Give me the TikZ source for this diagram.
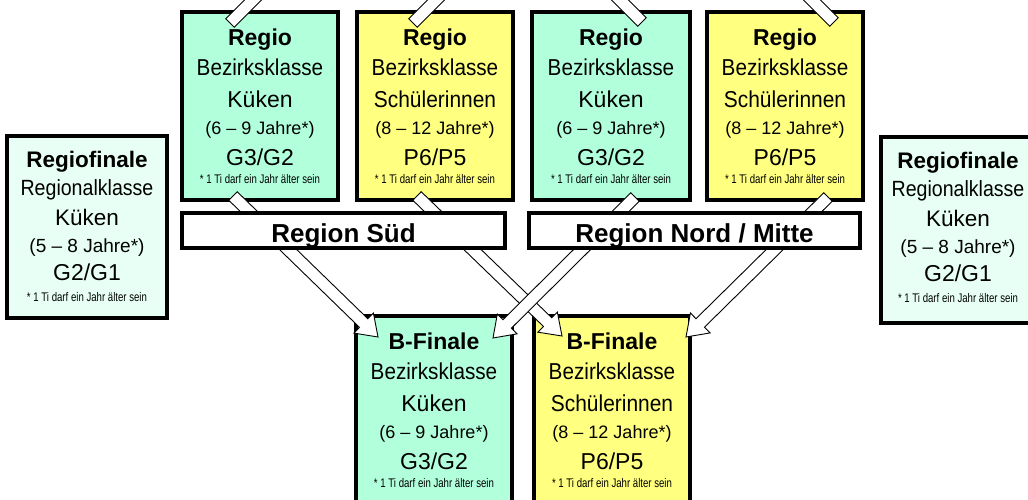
\documentclass[tikz,border=0pt]{standalone}
\usepackage{fontspec}
\setmainfont{Liberation Sans}
\usepackage{graphicx}
\usetikzlibrary{calc}
\definecolor{mint}{RGB}{178,255,220}
\definecolor{blassmint}{RGB}{232,255,245}
\definecolor{zitrone}{RGB}{255,255,128}
\tikzset{
  kbox/.style={draw, line width=4pt, inner sep=0pt, anchor=north west},
  rbar/.style={draw, fill=white, line width=4pt, inner sep=0pt, anchor=north west,
    minimum height=35pt, text height=23pt, text depth=0pt,
    font=\fontsize{26}{26}\selectfont\bfseries},
  zeile/.style={anchor=base, inner sep=0pt},
  pfeil/.style={draw, fill=white, line width=0.9pt, line join=miter},
}
\newcommand{\squeeze}[2]{\scalebox{#1}[1]{#2}}
\newcommand{\klasse}[6]{
\node[zeile, font=\fontsize{23}{23}\selectfont\bfseries] (#1-a) at ($(#1.north)+(0,35)$) {#2};
\node[zeile, font=\fontsize{23}{23}\selectfont] (#1-b) at ($(#1.north)+(0,65)$) {#3};
\node[zeile, font=\fontsize{23}{23}\selectfont] (#1-c) at ($(#1.north)+(0,97)$) {#4};
\node[zeile, font=\fontsize{18}{18}\selectfont] (#1-d) at ($(#1.north)+(0,124)$) {#5};
\node[zeile, font=\fontsize{23}{23}\selectfont] (#1-e) at ($(#1.north)+(0,155)$) {#6};
\node[zeile, font=\fontsize{12.5}{12.5}\selectfont] (#1-f) at ($(#1.north)+(0,173)$)
  {\squeeze{0.77}{* 1 Ti darf ein Jahr älter sein}};
}
\newcommand{\regiofinale}[1]{
\node[zeile, font=\fontsize{22.5}{22.5}\selectfont\bfseries] (#1-a) at ($(#1.north)+(0,33)$) {Regiofinale};
\node[zeile, font=\fontsize{22}{22}\selectfont] (#1-b) at ($(#1.north)+(0,61)$) {\squeeze{0.89}{Regionalklasse}};
\node[zeile, font=\fontsize{22.5}{22.5}\selectfont] (#1-c) at ($(#1.north)+(0,91)$) {Küken};
\node[zeile, font=\fontsize{19}{19}\selectfont] (#1-d) at ($(#1.north)+(0,118)$) {(5 -- 8 Jahre*)};
\node[zeile, font=\fontsize{23}{23}\selectfont] (#1-e) at ($(#1.north)+(0,146)$) {G2/G1};
\node[zeile, font=\fontsize{12.5}{12.5}\selectfont] (#1-f) at ($(#1.north)+(0,167)$)
  {\squeeze{0.77}{* 1 Ti darf ein Jahr älter sein}};
}
\newcommand{\blockpfeil}[2]{
\coordinate (hb) at ($(#2)!20pt!(#1)$);
\draw[pfeil] ($(#1)!6pt!90:(#2)$) -- ($(hb)!6pt!90:(#2)$) -- ($(hb)!14pt!90:(#2)$)
  -- (#2) -- ($(hb)!14pt!-90:(#2)$) -- ($(hb)!6pt!-90:(#2)$) -- ($(#1)!6pt!-90:(#2)$) -- cycle;
}

\begin{document}
\begin{tikzpicture}[x=1pt, y=-1pt]
\useasboundingbox (0,0) rectangle (1028,499);
\fill[white] (0,0) rectangle (1028,499);
% Regio
\node[kbox, fill=mint, minimum width=156pt, minimum height=188pt] (sk) at (180,10) {};
\node[kbox, fill=zitrone, minimum width=156pt, minimum height=188pt] (ss) at (355,10) {};
\node[kbox, fill=mint, minimum width=158pt, minimum height=188pt] (nk) at (530,10) {};
\node[kbox, fill=zitrone, minimum width=156pt, minimum height=188pt] (ns) at (705,10) {};
\klasse{sk}{Regio}{\squeeze{0.9}{Bezirksklasse}}{Küken}{(6 -- 9 Jahre*)}{G3/G2}
\klasse{ss}{Regio}{\squeeze{0.9}{Bezirksklasse}}{\squeeze{0.91}{Schülerinnen}}{(8 -- 12 Jahre*)}{P6/P5}
\klasse{nk}{Regio}{\squeeze{0.9}{Bezirksklasse}}{Küken}{(6 -- 9 Jahre*)}{G3/G2}
\klasse{ns}{Regio}{\squeeze{0.9}{Bezirksklasse}}{\squeeze{0.91}{Schülerinnen}}{(8 -- 12 Jahre*)}{P6/P5}
% Regiofinale
\node[kbox, fill=blassmint, minimum width=160pt, minimum height=182pt] (rl) at (5,134) {};
\node[kbox, fill=blassmint, minimum width=154pt, minimum height=186pt] (rr) at (879,135) {};
\regiofinale{rl}
\regiofinale{rr}
% B-Finale
\node[kbox, fill=mint, minimum width=156pt, minimum height=200pt] (bk) at (354,314) {};
\node[kbox, fill=zitrone, minimum width=156pt, minimum height=200pt] (bs) at (532,314) {};
\klasse{bk}{B-Finale}{\squeeze{0.9}{Bezirksklasse}}{Küken}{(6 -- 9 Jahre*)}{G3/G2}
\klasse{bs}{B-Finale}{\squeeze{0.9}{Bezirksklasse}}{\squeeze{0.91}{Schülerinnen}}{(8 -- 12 Jahre*)}{P6/P5}
% arrows
\coordinate (sk-oben) at ($(sk.north)+(-30,13)$);
\coordinate (ss-oben) at ($(ss.north)+(-22,13)$);
\coordinate (nk-oben) at ($(nk.north)+(31,12)$);
\coordinate (ns-oben) at ($(ns.north)+(49,12)$);
\coordinate (sk-hoch) at ($(sk-oben)+(70,-70)$);
\coordinate (ss-hoch) at ($(ss-oben)+(70,-70)$);
\coordinate (nk-hoch) at ($(nk-oben)+(-70,-70)$);
\coordinate (ns-hoch) at ($(ns-oben)+(-70,-70)$);
\blockpfeil{sk-oben}{sk-hoch}
\blockpfeil{ss-oben}{ss-hoch}
\blockpfeil{nk-oben}{nk-hoch}
\blockpfeil{ns-oben}{ns-hoch}
\coordinate (sk-unten) at ($(sk.south)+(-27,-6)$);
\coordinate (ss-unten) at ($(ss.south)+(-18,-6)$);
\coordinate (nk-unten) at ($(nk.south)+(24,-5)$);
\coordinate (ns-unten) at ($(ns.south)+(43,-5)$);
\coordinate (bk-links) at ($(bk.north west)+(24,23)$);
\coordinate (bk-rechts) at ($(bk.north east)+(-21,24)$);
\coordinate (bs-links) at ($(bs.north west)+(30,22)$);
\coordinate (bs-rechts) at ($(bs.north east)+(-6,23)$);
\blockpfeil{sk-unten}{bk-links}
\blockpfeil{ss-unten}{bs-links}
\blockpfeil{nk-unten}{bk-rechts}
\blockpfeil{ns-unten}{bs-rechts}
% Regionen
\node[rbar, minimum width=323pt] (sued) at (180,211) {Region Süd};
\node[rbar, minimum width=331pt] (nord) at (527,211) {Region Nord / Mitte};
\end{tikzpicture}
\end{document}
